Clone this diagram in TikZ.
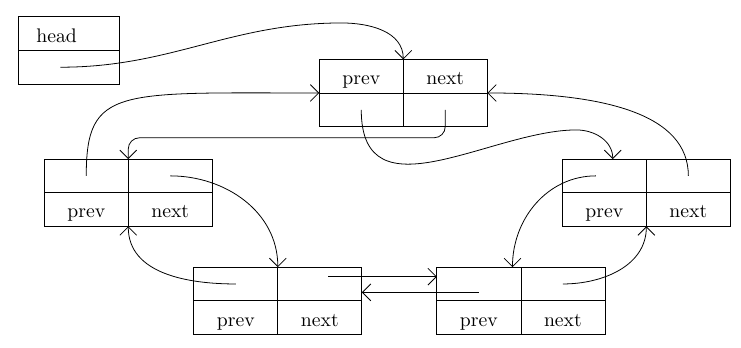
\documentclass[tikz,border=0pt]{standalone}
\usepackage{tikz}
\usetikzlibrary{arrows.meta,positioning}

\begin{document}
\begin{tikzpicture}[
  cell/.style={draw, minimum width=1.5cm, minimum height=0.6cm, inner sep=0pt, outer sep=0pt,
    text height=2ex, text depth=0pt},
  ptr/.style={-{Straight Barb[length=1.5mm,width=3mm]}}]
\useasboundingbox (0,0) rectangle (13.23,6.2);
% head
\node[cell, minimum width=1.8cm, text width=1.16cm, align=left] (head) at (1.23,5.6) {head};
\node[cell, minimum width=1.8cm, below=0pt of head] (head-p) {};
% first node, labels on top
\node[cell] (n1-lp) at (6.45,4.84) {prev};
\node[cell, right=0pt of n1-lp] (n1-ln) {next};
\node[cell, below=0pt of n1-lp] (n1-p) {};
\node[cell, below=0pt of n1-ln] (n1-n) {};
% the other nodes, pointers on top
\foreach \nm/\x/\y in {n2/1.54/3.06, n3/4.21/1.13, n4/8.55/1.13, n5/10.79/3.06} {
  \node[cell] (\nm-p) at (\x,\y) {};
  \node[cell, right=0pt of \nm-p] (\nm-n) {};
  \node[cell, below=0pt of \nm-p] (\nm-lp) {prev};
  \node[cell, below=0pt of \nm-n] (\nm-ln) {next};
}
% next pointers
\draw[ptr] ([xshift=-0.15cm]head-p.center) to[out=0,in=180] ([shift={(-1.1,0.65)}]n1-lp.north east) to[out=0,in=90] (n1-lp.north east);
\draw[ptr, rounded corners=0.2cm] (n1-n.center) -- ([yshift=-0.2cm]n1-n.south) -| (n2-p.north east);
\draw[ptr] (n2-n.center) to[out=0,in=90] (n3-p.north east);
\draw[ptr] ([shift={(0.15,0.13)}]n3-n.center) -- ([yshift=0.13cm]n4-p.west);
\draw[ptr] (n4-n.center) to[out=0,in=-90] (n5-lp.south east);
\draw[ptr] (n5-n.center) to[out=90,in=0,out distance=1.1cm,in distance=2.1cm] (n1-ln.south east);
% prev pointers
\draw[ptr] (n1-p.center) to[out=-90,in=180,out distance=1.95cm] ([shift={(-0.5,0.52)}]n5-p.north) to[out=0,in=90] ([xshift=0.15cm]n5-p.north);
\draw[ptr] ([xshift=-0.15cm]n5-p.center) to[out=180,in=90] ([xshift=-0.15cm]n4-p.north east);
\draw[ptr] ([yshift=-0.15cm]n4-p.center) -- ([yshift=-0.15cm]n3-n.east);
\draw[ptr] (n3-p.center) to[out=180,in=-90] (n2-lp.south east);
\draw[ptr] (n2-p.center) to[out=90,in=180,out distance=1.6cm,in distance=3.6cm] (n1-lp.south west);
\end{tikzpicture}
\end{document}
